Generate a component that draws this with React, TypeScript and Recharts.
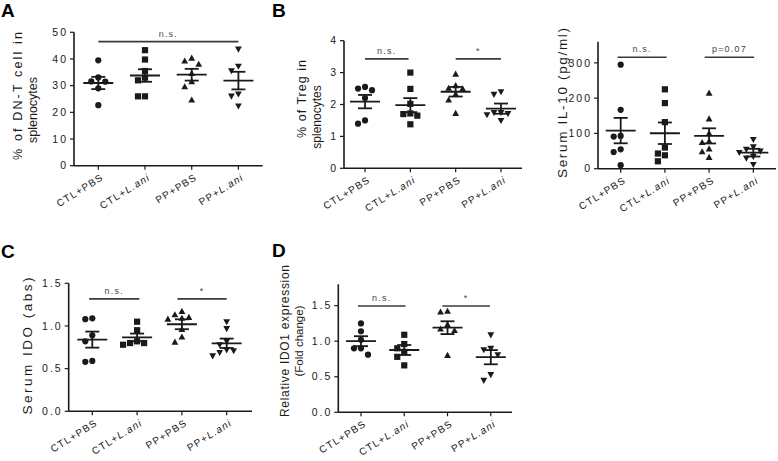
import React from 'react';
import { ComposedChart, Scatter, XAxis, YAxis, ReferenceLine, ErrorBar } from 'recharts';

const categories = ['CTL+PBS', 'CTL+L.ani', 'PP+PBS', 'PP+L.ani'];

// Panel A: % of DN-T cell in splenocytes
const aCtlPbs = [39.5, 33.1, 31.5, 31.6, 29.0, 22.7];
const aCtlLani = [43.3, 39.8, 35.5, 33.0, 32.0, 26.0, 26.0];
const aPpPbs = [39.2, 38.0, 40.3, 34.6, 31.5, 29.6, 24.6];
const aPpLani = [43.7, 37.3, 35.6, 26.9, 26.1, 22.4];
const aMean = [31.0, 33.8, 34.1, 31.9];
const aSem = [2.3, 2.35, 2.2, 3.3];
const aTicks = [0, 10, 20, 30, 40, 50];

// Panel B: % of Treg in splenocytes
const bCtlPbs = [2.5, 2.45, 2.55, 2.2, 1.4, 1.5];
const bCtlLani = [3.0, 2.49, 2.02, 1.7, 1.65, 1.72, 1.38];
const bPpPbs = [2.95, 2.51, 2.59, 2.49, 2.32, 2.14, 1.72];
const bPpLani = [2.4, 2.32, 1.75, 1.72, 1.68, 1.75, 1.5];
const bMean = [2.09, 1.98, 2.4, 1.87];
const bSem = [0.21, 0.22, 0.15, 0.16];
const bTicks = [0, 1, 2, 3, 4];

// Panel B (right): Serum IL-10 (pg/ml)
const ilCtlPbs = [295, 167, 91, 93, 55, 47, 10];
const ilCtlLani = [225, 186, 132, 60, 43, 38, 21];
const ilPpPbs = [214, 141, 100, 78, 74, 56, 48, 32];
const ilPpLani = [83, 62, 55, 50, 46, 35, 30, 12];
const ilMean = [108, 100.5, 93, 45.5];
const ilSem = [36, 30.5, 21.5, 11];
const ilTicks = [0, 100, 200, 300];

// Panel C: Serum IDO (abs)
const cCtlPbs = [1.08, 1.09, 0.89, 0.82, 0.58, 0.59];
const cCtlLani = [1.05, 0.95, 0.8, 0.78, 0.8, 0.82];
const cPpPbs = [1.13, 1.08, 1.09, 1.1, 1.17, 0.96, 0.87, 0.81];
const cPpLani = [1.05, 0.97, 0.82, 0.78, 0.71, 0.69, 0.65, 0.72];
const cMean = [0.84, 0.866, 1.02, 0.797];
const cSem = [0.094, 0.045, 0.058, 0.055];
const cTicks = [0, 0.5, 1.0, 1.5];

// Panel D: Relative IDO1 expression (Fold change)
const dCtlPbs = [1.25, 1.14, 1.02, 0.9, 0.9, 0.81];
const dCtlLani = [1.09, 0.96, 0.9, 0.85, 0.78, 0.66];
const dPpPbs = [1.41, 1.42, 1.23, 1.17, 1.15, 0.8];
const dPpLani = [1.09, 0.9, 0.88, 0.81, 0.53, 0.45];
const dMean = [1.0, 0.876, 1.19, 0.775];
const dSem = [0.07, 0.07, 0.09, 0.1];
const dTicks = [0, 0.5, 1.0, 1.5];

// significance brackets: [from, to, value, label]
const aSig: [number, number, number, string][] = [[0, 3, 46.5, 'n.s.']];
const bSig: [number, number, number, string][] = [[0, 0.96, 3.43, 'n.s.'], [2, 3, 3.43, '*']];
const ilSig: [number, number, number, string][] = [[-0.07, 1.04, 316, 'n.s.'], [1.9, 3.02, 316, 'p=0.07']];
const cSig: [number, number, number, string][] = [[-0.07, 1.05, 1.317, 'n.s.'], [1.9, 3, 1.317, '*']];
const dSig: [number, number, number, string][] = [[-0.07, 1.03, 1.495, 'n.s.'], [1.88, 2.98, 1.495, '*']];

const W = 778;
const H = 461;
const FONT = '"Liberation Sans", Arial, Helvetica, sans-serif';
const INK = '#1a1a1a';

type Kind = 'circle' | 'square' | 'up' | 'down';
const kinds: Kind[] = ['circle', 'square', 'up', 'down'];

const makeMarker = (kind: Kind) => (props: any) => {
  const { cx, cy } = props;
  if (cx == null || cy == null) return <g />;
  const s = 3.1;
  if (kind === 'circle') return <circle cx={cx} cy={cy} r={3.1} fill={INK} />;
  if (kind === 'square') return <rect x={cx - s} y={cy - s} width={2 * s} height={2 * s} fill={INK} />;
  if (kind === 'up')
    return <polygon points={`${cx},${cy - 3.6} ${cx - 3.4},${cy + 2.5} ${cx + 3.4},${cy + 2.5}`} fill={INK} />;
  return <polygon points={`${cx},${cy + 3.6} ${cx - 3.4},${cy - 2.5} ${cx + 3.4},${cy - 2.5}`} fill={INK} />;
};

const MeanLine = (props: any) => {
  const { cx, cy } = props;
  if (cx == null || cy == null) return <g />;
  return <line x1={cx - 15} x2={cx + 15} y1={cy} y2={cy} stroke={INK} strokeWidth={1.8} />;
};

const SigText = (props: any) => {
  const { cx, cy, payload } = props;
  if (cx == null || cy == null) return <g />;
  return (
    <text x={cx} y={cy - 5} textAnchor="middle" fontSize={9} letterSpacing={1.2} fill="#444" fontFamily={FONT}>
      {payload.label}
    </text>
  );
};

const CatTick = (props: any) => {
  const { x, y, payload } = props;
  const name = categories[payload.value] ?? '';
  const [pre, post] = name.split('+');
  const italic = post === 'L.ani';
  return (
    <g transform={`translate(${x + 2},${y + 1})`}>
      <text transform="rotate(-32)" textAnchor="end" dy="0.75em" fontSize={10} letterSpacing={1.2} fill={INK} fontFamily={FONT}>
        {pre}+<tspan fontStyle={italic ? 'italic' : 'normal'}>{post}</tspan>
      </text>
    </g>
  );
};

// simple beeswarm layout so that overlapping dots sit side by side
function swarm(values: number[], cat: number, pxPerY: number, pxPerX: number) {
  const d = 7;
  const placed: { x: number; y: number }[] = [];
  const out: { x: number; y: number }[] = new Array(values.length);
  const order = values.map((v, i) => ({ v, i })).sort((a, b) => b.v - a.v);
  for (const { v, i } of order) {
    const py = v * pxPerY;
    for (const k of [0, -1, 1, -2, 2, -3, 3]) {
      const px = k * d;
      if (placed.every((p) => Math.hypot(p.x - px, p.y - py) >= d * 0.92)) {
        placed.push({ x: px, y: py });
        out[i] = { x: cat + px / pxPerX, y: v };
        break;
      }
    }
  }
  return out;
}

interface PanelCfg {
  left: number;
  top: number;
  right: number;
  bottom: number;
  yDomain: [number, number];
  xDomain: [number, number];
  yTicks: number[];
  groups: number[][];
  means: number[];
  sems: number[];
  sig: [number, number, number, string][];
  decimals: number;
}

const Panel = ({ cfg }: { cfg: PanelCfg }) => {
  const yAxisW = 40;
  const xAxisH = 40;
  const margin = { left: cfg.left - yAxisW, top: cfg.top, right: W - cfg.right, bottom: H - cfg.bottom - xAxisH };
  const pxPerY = (cfg.bottom - cfg.top) / (cfg.yDomain[1] - cfg.yDomain[0]);
  const pxPerX = (cfg.right - cfg.left) / (cfg.xDomain[1] - cfg.xDomain[0]);
  return (
    <div style={{ position: 'absolute', left: 0, top: 0 }}>
      <ComposedChart width={W} height={H} margin={margin}>
        <XAxis
          type="number"
          dataKey="x"
          domain={cfg.xDomain}
          ticks={[0, 1, 2, 3]}
          interval={0}
          height={xAxisH}
          allowDataOverflow
          tick={<CatTick />}
          tickSize={4}
          axisLine={{ stroke: INK, strokeWidth: 1.6 }}
          tickLine={{ stroke: INK, strokeWidth: 1.2 }}
        />
        <YAxis
          type="number"
          dataKey="y"
          domain={cfg.yDomain}
          ticks={cfg.yTicks}
          interval={0}
          width={yAxisW}
          allowDataOverflow
          tickSize={4}
          tickMargin={2}
          tickFormatter={(v: number) => v.toFixed(cfg.decimals)}
          tick={{ fontSize: 10.5, fill: INK, fontFamily: FONT, letterSpacing: 2 }}
          axisLine={{ stroke: INK, strokeWidth: 1.6 }}
          tickLine={{ stroke: INK, strokeWidth: 1.2 }}
        />
        {cfg.groups.map((g, i) => (
          <Scatter
            key={`g${i}`}
            data={swarm(g, i, pxPerY, pxPerX)}
            shape={makeMarker(kinds[i])}
            isAnimationActive={false}
            fill={INK}
          />
        ))}
        <Scatter
          data={cfg.means.map((m, i) => ({ x: i, y: m, err: cfg.sems[i] }))}
          shape={MeanLine}
          isAnimationActive={false}
          fill={INK}
        >
          <ErrorBar dataKey="err" direction="y" width={7} stroke={INK} strokeWidth={1.8} isAnimationActive={false} />
        </Scatter>
        {cfg.sig.map((s, i) => (
          <ReferenceLine
            key={`s${i}`}
            segment={[
              { x: s[0], y: s[2] },
              { x: s[1], y: s[2] },
            ]}
            stroke="#3a3a3a"
            strokeWidth={1.6}
            ifOverflow="visible"
          />
        ))}
        <Scatter
          data={cfg.sig.map((s) => ({ x: (s[0] + s[1]) / 2, y: s[2], label: s[3] }))}
          shape={SigText}
          isAnimationActive={false}
        />
      </ComposedChart>
    </div>
  );
};

const panels: PanelCfg[] = [
  {
    left: 74, top: 32.3, right: 262.7, bottom: 165.7, yDomain: [0, 50], xDomain: [-0.52, 3.52],
    yTicks: aTicks, groups: [aCtlPbs, aCtlLani, aPpPbs, aPpLani], means: aMean, sems: aSem, sig: aSig, decimals: 0,
  },
  {
    left: 344, top: 40.7, right: 522, bottom: 168.3, yDomain: [0, 4], xDomain: [-0.464, 3.464],
    yTicks: bTicks, groups: [bCtlPbs, bCtlLani, bPpPbs, bPpLani], means: bMean, sems: bSem, sig: bSig, decimals: 0,
  },
  {
    left: 598, top: 41.7, right: 776, bottom: 168.7, yDomain: [0, 360], xDomain: [-0.513, 3.513],
    yTicks: ilTicks, groups: [ilCtlPbs, ilCtlLani, ilPpPbs, ilPpLani], means: ilMean, sems: ilSem, sig: ilSig, decimals: 0,
  },
  {
    left: 68.7, top: 283.3, right: 252, bottom: 411.3, yDomain: [0, 1.5], xDomain: [-0.527, 3.565],
    yTicks: cTicks, groups: [cCtlPbs, cCtlLani, cPpPbs, cPpLani], means: cMean, sems: cSem, sig: cSig, decimals: 1,
  },
  {
    left: 338.3, top: 284.3, right: 512, bottom: 412.3, yDomain: [0, 1.8], xDomain: [-0.524, 3.49],
    yTicks: dTicks, groups: [dCtlPbs, dCtlLani, dPpPbs, dPpLani], means: dMean, sems: dSem, sig: dSig, decimals: 1,
  },
];

const VTitle = ({ x, y, text, len, size }: { x: number; y: number; text: string; len?: number; size: number }) => (
  <text
    transform={`translate(${x},${y}) rotate(-90)`}
    textAnchor="middle"
    dominantBaseline="central"
    fontSize={size}
    fill={INK}
    fontFamily={FONT}
    textLength={len}
    lengthAdjust={len ? 'spacing' : undefined}
  >
    {text}
  </text>
);

const Letter = ({ x, y, t }: { x: number; y: number; t: string }) => (
  <text x={x} y={y} fontSize={19} fontWeight="bold" fill="#000" fontFamily={FONT}>
    {t}
  </text>
);

export default function App() {
  return (
    <div style={{ position: 'absolute', left: 0, top: 0, width: W, height: H, background: '#fff', overflow: 'hidden' }}>
      {panels.map((p, i) => (
        <Panel key={i} cfg={p} />
      ))}
      <svg width={W} height={H} style={{ position: 'absolute', left: 0, top: 0, pointerEvents: 'none' }}>
        <Letter x={1} y={17} t="A" />
        <Letter x={272} y={17} t="B" />
        <Letter x={1} y={258} t="C" />
        <Letter x={272} y={257} t="D" />
        <VTitle x={18} y={96} text="% of DN-T cell in" len={128} size={12.5} />
        <VTitle x={33} y={110} text="splenocytes" size={12.5} />
        <VTitle x={302} y={99} text="% of Treg in" len={78} size={12.5} />
        <VTitle x={317} y={117} text="splenocytes" size={12} />
        <VTitle x={562} y={103} text="Serum IL-10 (pg/ml)" len={150} size={13.5} />
        <VTitle x={27} y={346} text="Serum IDO (abs)" len={137} size={13.5} />
        <VTitle x={285} y={341} text="Relative IDO1 expression" len={152} size={12} />
        <VTitle x={298.5} y={341} text="(Fold change)" size={11.5} />
      </svg>
    </div>
  );
}
